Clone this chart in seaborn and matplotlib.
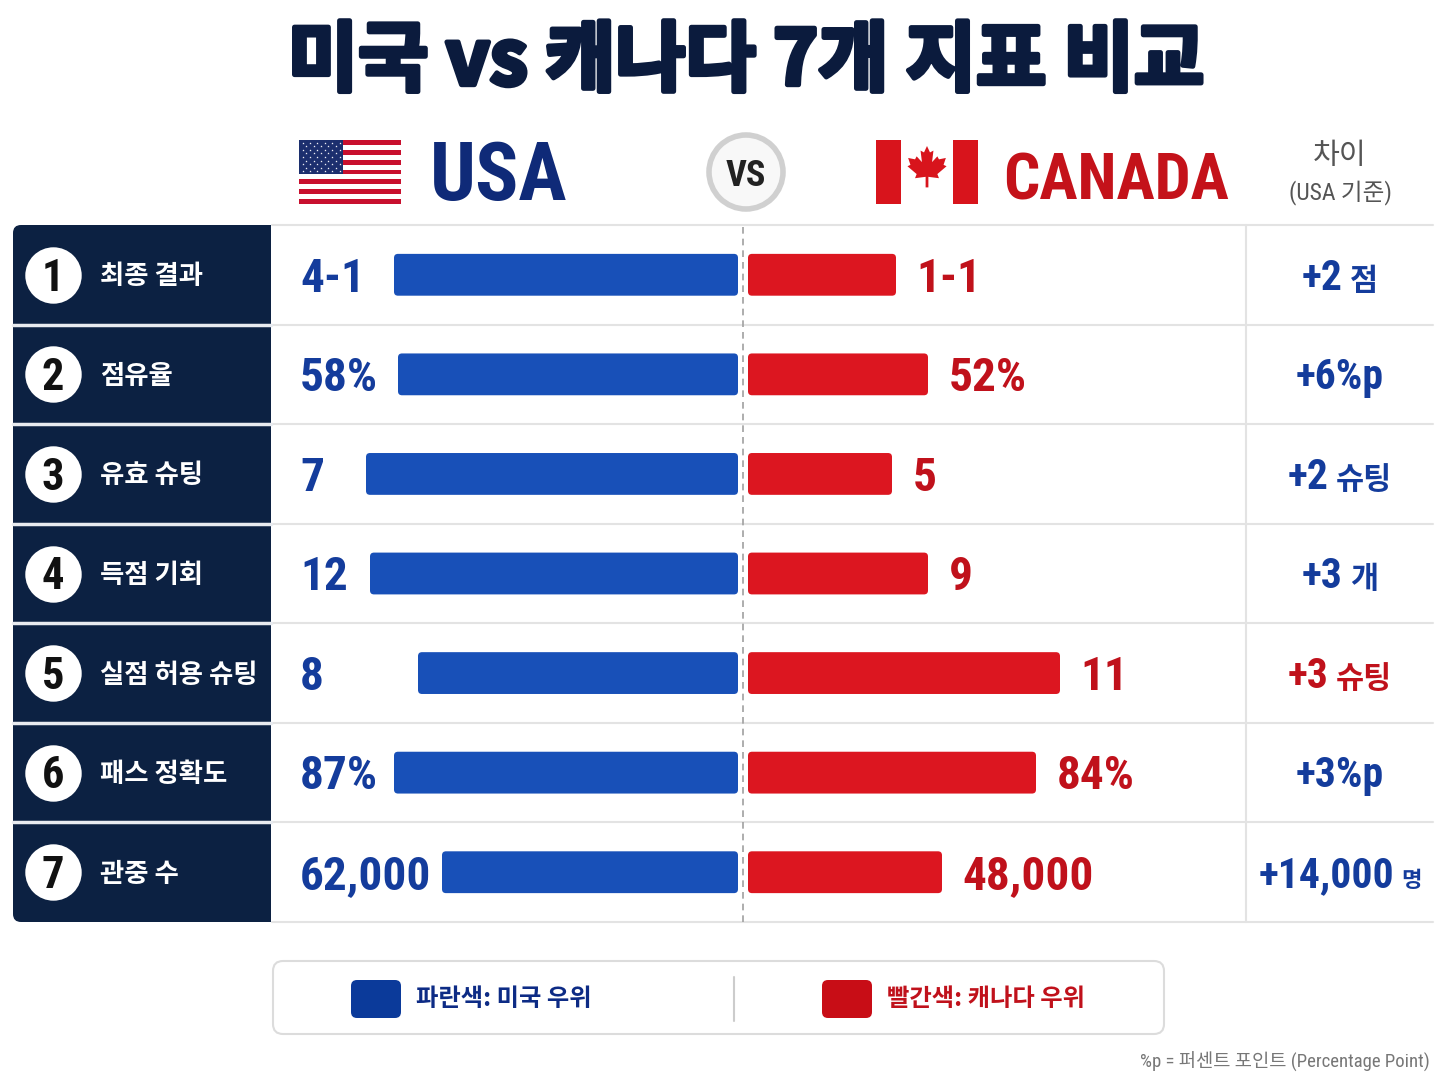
import matplotlib
matplotlib.use("Agg")
import matplotlib.pyplot as plt
import matplotlib.transforms as mtransforms
import matplotlib.patheffects as pe
from matplotlib.patches import FancyBboxPatch, Rectangle, Circle, Polygon
from matplotlib import font_manager
import seaborn as sns
import pandas as pd

# --- data ---
metrics = ["최종 결과", "점유율", "유효 슈팅", "득점 기회", "실점 허용 슈팅", "패스 정확도", "관중 수"]
usa_labels = ["4-1", "58%", "7", "12", "8", "87%", "62,000"]
can_labels = ["1-1", "52%", "5", "9", "11", "84%", "48,000"]
diff_nums = ["+2", "+6%p", "+2", "+3", "+3", "+3%p", "+14,000"]
diff_units = ["점", "", "슈팅", "개", "슈팅", "", "명"]
diff_winner = ["USA", "USA", "USA", "USA", "CAN", "USA", "USA"]
# bar lengths as drawn in the infographic (visual score, 0-100)
usa_bar = [86, 85, 93, 92, 80, 86, 74]
can_bar = [37, 45, 36, 45, 78, 72, 48.5]

# colours
NAVY = "#0c2142"
BLUE_BAR = "#1850b8"
RED_BAR = "#dc1620"
BLUE_TXT = "#143c9c"
RED_TXT = "#c0111b"

sns.set_theme(style="white")
names = {f.name for f in font_manager.fontManager.ttflist}
LAT = next((n for n in ["Roboto Condensed", "Liberation Sans Narrow"] if n in names), "Roboto")
KR = "Noto Sans CJK KR"
plt.rcParams["font.family"] = [LAT, KR, "DejaVu Sans"]

W, H = 1448, 1086
fig = plt.figure(figsize=(W / 100, H / 100), dpi=100)
fig.patch.set_facecolor("white")

# background axes in pixel coordinates for the decorations
bg = fig.add_axes([0, 0, 1, 1])
bg.set_xlim(0, W)
bg.set_ylim(H, 0)
bg.axis("off")

TOP, BOT = 225, 922
X0, X1 = 272, 1245
CX = 743
PX = 4.0  # pixels per bar unit
ROW_PX = (BOT - TOP) / len(metrics)

ax = fig.add_axes([X0 / W, 1 - BOT / H, (X1 - X0) / W, (BOT - TOP) / H])
ax.set_facecolor("none")

df = pd.DataFrame({
    "metric": metrics * 2,
    "bar": [-v for v in usa_bar] + can_bar,
    "team": ["USA"] * len(metrics) + ["CAN"] * len(metrics),
})
sns.barplot(data=df, y="metric", x="bar", hue="team", orient="h", dodge=False,
            palette={"USA": BLUE_BAR, "CAN": RED_BAR}, width=0.42, saturation=1,
            errorbar=None, legend=False, ax=ax)
ax.set_xlim(-(CX - X0) / PX, (X1 - CX) / PX)
ax.set_ylim(len(metrics) - 0.5, -0.5)
ax.axis("off")

# rounded bars with a small gap at the centre line
gap = 5 / PX
aspect = (1 / ROW_PX) / (1 / PX)
for p in list(ax.patches):
    x, y, w, h = p.get_x(), p.get_y(), p.get_width(), p.get_height()
    fc = p.get_facecolor()
    p.remove()
    if w < 0:
        x, w = x + w, -w
    x = x - gap if x < 0 else x + gap
    ax.add_patch(FancyBboxPatch((x, y), w, h, boxstyle=f"round,pad=0,rounding_size={4 / PX}",
                                mutation_aspect=aspect, fc=fc, ec="none", zorder=3))

ax.axvline(0, color="#a0a0a0", lw=1.2, ls=(0, (4, 3)), zorder=1)

trans = mtransforms.blended_transform_factory(bg.transData, ax.transData)


def base_tr(size, k=0.711):
    # baseline offset so the glyphs sit centred on the row
    return mtransforms.offset_copy(trans, fig=fig, y=-k * size / 2, units="points")


# title
bg.text(746, 62, "미국 vs 캐나다 7개 지표 비교", ha="center", va="center", fontsize=55,
        fontweight="black", color="#0b1b3d", family=[KR],
        path_effects=[pe.withStroke(linewidth=3.5, foreground="#0b1b3d")])

# header: US flag
fx, fy, fw, fh = 299, 140, 102, 64
for s in range(13):
    bg.add_patch(Rectangle((fx, fy + s * fh / 13), fw, fh / 13,
                           fc="#c8102e" if s % 2 == 0 else "white", ec="none"))
bg.add_patch(Rectangle((fx, fy), 44, fh * 7 / 13, fc="#1c2f6e", ec="none"))
sx, sy = [], []
for r in range(9):
    cols = 6 if r % 2 == 0 else 5
    off = 3.5 if r % 2 == 0 else 7.2
    for c in range(cols):
        sx.append(fx + off + c * 7.4)
        sy.append(fy + 2.5 + r * 3.6)
bg.scatter(sx, sy, s=3, c="white", marker="*", linewidths=0)
bg.text(430, 200, "USA", ha="left", va="baseline", fontsize=58, fontweight="bold", color="#0f2a78")

# vs badge
bg.add_patch(Circle((746, 172), 37, fc="#f8f8f8", ec="#d0d0d0", lw=4))
bg.text(746, 186, "VS", ha="center", va="baseline", fontsize=26, fontweight="bold", color="#222222")

# header: Canada flag
fx = 876
bg.add_patch(Rectangle((fx, fy), fw, fh, fc="white", ec="none"))
bg.add_patch(Rectangle((fx, fy), 25, fh, fc="#d8141c", ec="none"))
bg.add_patch(Rectangle((fx + fw - 25, fy), 25, fh, fc="#d8141c", ec="none"))
leaf_r = [(0, 1.0), (0.13, 0.72), (0.28, 0.80), (0.22, 0.30), (0.45, 0.55), (0.52, 0.42),
          (0.82, 0.48), (0.72, 0.18), (0.85, 0.12), (0.45, -0.22), (0.52, -0.40),
          (0.06, -0.34), (0.06, -0.80)]
leaf = leaf_r + [(-a, b) for a, b in reversed(leaf_r[1:])]
bg.add_patch(Polygon([(927 + 23 * a, 169 - 23 * b) for a, b in leaf], closed=True,
                     fc="#d8141c", ec="none"))
bg.text(1003, 200, "CANADA", ha="left", va="baseline", fontsize=46, fontweight="bold", color="#c4121a")

bg.text(1340, 156, "차이", ha="center", va="center", fontsize=21, color="#555555", family=[KR])
bg.text(1340, 193, "(USA 기준)", ha="center", va="center", fontsize=17, color="#555555")

# grid lines
for i in range(len(metrics) + 1):
    yy = TOP + i * ROW_PX
    bg.plot([X0, 1433], [yy, yy], color="#e3e3e3", lw=1.5, zorder=1)
bg.plot([1246, 1246], [TOP, BOT], color="#e3e3e3", lw=1.5, zorder=1)

# left label panels
bg.add_patch(FancyBboxPatch((13, TOP), 258, BOT - TOP, boxstyle="round,pad=0,rounding_size=8",
                            fc=NAVY, ec="none", zorder=2))
bg.add_patch(Rectangle((200, TOP), 71, BOT - TOP, fc=NAVY, ec="none", zorder=2))
for i in range(1, len(metrics)):
    yy = TOP + i * ROW_PX
    bg.plot([13, 271], [yy, yy], color="#e8ebf0", lw=2.5, zorder=3)

rows = list(range(len(metrics)))
bg.scatter([53] * len(rows), rows, s=1650, c="white", transform=trans, zorder=4, linewidths=0)
for i, m in enumerate(metrics):
    bg.text(53, i, str(i + 1), transform=base_tr(32), ha="center", va="baseline",
            fontsize=32, fontweight="bold", color="#111111", zorder=5)
    bg.text(100, i, m, transform=base_tr(19, 0.72), ha="left", va="baseline",
            fontsize=19, fontweight="bold", color="white", family=[KR], zorder=5)

# value labels
VS = 34
for i in rows:
    bg.text(300, i, usa_labels[i], transform=base_tr(VS), ha="left", va="baseline",
            fontsize=VS, fontweight="bold", color=BLUE_TXT, zorder=5)
    ax.annotate(can_labels[i], xy=(can_bar[i] + gap, i), xytext=(15, -0.711 * VS / 2),
                textcoords="offset points", ha="left", va="baseline",
                fontsize=VS, fontweight="bold", color=RED_TXT, zorder=5)

# difference column
renderer = fig.canvas.get_renderer()
DS = 30
for i in rows:
    col = BLUE_TXT if diff_winner[i] == "USA" else RED_TXT
    t1 = bg.text(0, i, diff_nums[i], transform=base_tr(DS), ha="left", va="baseline",
                 fontsize=DS, fontweight="bold", color=col)
    usize = 16 if diff_units[i] == "명" else 22
    t2 = bg.text(0, i, diff_units[i], transform=base_tr(DS), ha="left", va="baseline",
                 fontsize=usize, fontweight="bold", color=col, family=[KR])
    w1 = t1.get_window_extent(renderer).width
    w2 = t2.get_window_extent(renderer).width if diff_units[i] else 0
    sp = 7 if diff_units[i] else 0
    left = 1340 - (w1 + sp + w2) / 2
    t1.set_x(left)
    t2.set_x(left + w1 + sp)

# legend box
bg.add_patch(FancyBboxPatch((273, 961), 891, 73, boxstyle="round,pad=0,rounding_size=10",
                            fc="white", ec="#dcdcdc", lw=1.5))
bg.add_patch(FancyBboxPatch((351, 980), 50, 38, boxstyle="round,pad=0,rounding_size=6",
                            fc="#0b3a9a", ec="none"))
bg.text(416, 999, "파란색: 미국 우위", ha="left", va="center", fontsize=17.5,
        fontweight="bold", color="#0d2b85", family=[KR])
bg.plot([734, 734], [977, 1021], color="#cccccc", lw=1.5)
bg.add_patch(FancyBboxPatch((822, 980), 50, 38, boxstyle="round,pad=0,rounding_size=6",
                            fc="#c80d16", ec="none"))
bg.text(887, 999, "빨간색: 캐나다 우위", ha="left", va="center", fontsize=17.5,
        fontweight="bold", color=RED_TXT, family=[KR])

bg.text(1430, 1062, "%p = 퍼센트 포인트 (Percentage Point)", ha="right", va="center",
        fontsize=13.5, color="#777777")

fig.savefig("out.png", dpi=100, facecolor="white")
